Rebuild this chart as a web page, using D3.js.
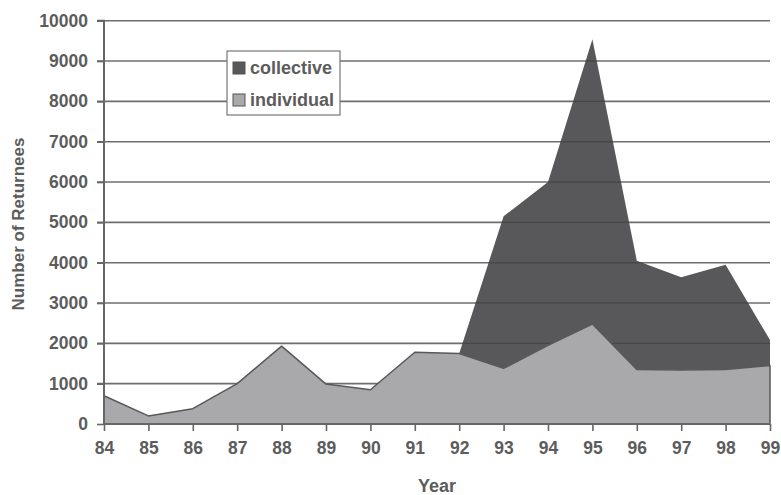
<!DOCTYPE html>
<html>
<head>
<meta charset="utf-8">
<script src="https://cdn.jsdelivr.net/npm/d3@7/dist/d3.min.js"></script>
<style>
  html, body { margin: 0; padding: 0; background: #fff; }
  svg { display: block; }
  text { font-family: "Liberation Sans", Arial, sans-serif; font-weight: bold; fill: #5c5c5c; }
</style>
</head>
<body>
<svg id="chart" width="781" height="495"></svg>
<script>
const years = [84, 85, 86, 87, 88, 89, 90, 91, 92, 93, 94, 95, 96, 97, 98, 99];
const individual = [700, 200, 380, 1000, 1930, 990, 850, 1780, 1750, 1380, 1950, 2480, 1350, 1340, 1350, 1450];
const collective = [0, 0, 0, 0, 0, 0, 0, 0, 0, 3770, 4050, 7060, 2700, 2300, 2600, 630];
const yTicks = [0, 1000, 2000, 3000, 4000, 5000, 6000, 7000, 8000, 9000, 10000];
const seriesNames = ["collective", "individual"];

const rows = years.map((y, i) => ({ year: y, individual: individual[i], collective: collective[i] }));

const svg = d3.select("#chart");
const x = d3.scaleLinear().domain([84, 99]).range([104, 770]);
const y = d3.scaleLinear().domain([0, 10000]).range([424, 20.7]);

const stack = d3.stack().keys(["individual", "collective"]);
const layers = stack(rows);

const area = d3.area()
  .x(d => x(d.data.year))
  .y0(d => y(d[0]))
  .y1(d => y(d[1]));

// gridlines
svg.append("g").selectAll("line").data(yTicks.filter(v => v > 0)).join("line")
  .attr("x1", 97).attr("x2", 770)
  .attr("y1", d => y(d)).attr("y2", d => y(d))
  .attr("stroke", "#6e6e6e").attr("stroke-width", 1.6);

// collective area
const collLayer = layers[1];
svg.append("path").datum(collLayer)
  .attr("d", area)
  .attr("fill", "#58585a");

// faint gridlines visible through the dark area
svg.append("clipPath").attr("id", "collClip")
  .append("path").datum(collLayer).attr("d", area);
svg.append("g").attr("clip-path", "url(#collClip)")
  .selectAll("line").data(yTicks.filter(v => v > 0)).join("line")
  .attr("x1", 104).attr("x2", 770)
  .attr("y1", d => y(d)).attr("y2", d => y(d))
  .attr("stroke", "#333").attr("stroke-opacity", 0.45).attr("stroke-width", 1.4);

// individual area
svg.append("path").datum(layers[0])
  .attr("d", area)
  .attr("fill", "#a9a9ab")
  .attr("stroke", "#58585a")
  .attr("stroke-width", 1.5)
  .attr("stroke-linejoin", "round");

// axes
const yAxis = d3.axisLeft(y).tickValues(yTicks).tickSize(7).tickPadding(9).tickFormat(d3.format("d"));
const gy = svg.append("g").attr("transform", "translate(104,0)").call(yAxis);
gy.select(".domain").attr("stroke", "#666").attr("stroke-width", 2).attr("d", `M-7,${y(10000)}H0V${y(0)}`);
gy.selectAll(".tick line").attr("stroke", "#666").attr("stroke-width", 1.6);
gy.selectAll(".tick text").style("font-size", "17.5px").attr("fill", "#5c5c5c")
  .style("font-family", '"Liberation Sans", Arial, sans-serif').style("font-weight", "bold");

const xAxis = d3.axisBottom(x).tickValues(years).tickSize(7).tickPadding(11).tickFormat(d3.format("d"));
const gx = svg.append("g").attr("transform", "translate(0,424)").call(xAxis);
gx.select(".domain").attr("stroke", "#666").attr("stroke-width", 2).attr("d", `M104,0H770`);
gx.selectAll(".tick line").attr("stroke", "#666").attr("stroke-width", 1.6);
gx.selectAll(".tick text").style("font-size", "17.5px").attr("fill", "#5c5c5c")
  .style("font-family", '"Liberation Sans", Arial, sans-serif').style("font-weight", "bold");

// axis titles
svg.append("text").attr("x", 437).attr("y", 492).attr("text-anchor", "middle")
  .style("font-size", "18px").text("Year");
svg.append("text").attr("transform", "translate(24,224) rotate(-90)").attr("text-anchor", "middle")
  .style("font-size", "17px").text("Number of Returnees");

// legend
const lg = svg.append("g");
lg.append("rect").attr("x", 227).attr("y", 51).attr("width", 113).attr("height", 64)
  .attr("fill", "#fff").attr("stroke", "#777").attr("stroke-width", 1.2);
const legendColors = { collective: "#58585a", individual: "#a9a9ab" };
seriesNames.forEach((name, i) => {
  const yy = 62 + i * 32;
  lg.append("rect").attr("x", 233).attr("y", yy).attr("width", 12).attr("height", 12)
    .attr("fill", legendColors[name]).attr("stroke", "#555").attr("stroke-width", 1);
  lg.append("text").attr("x", 250).attr("y", yy + 12).style("font-size", "18px").text(name);
});
</script>
</body>
</html>
